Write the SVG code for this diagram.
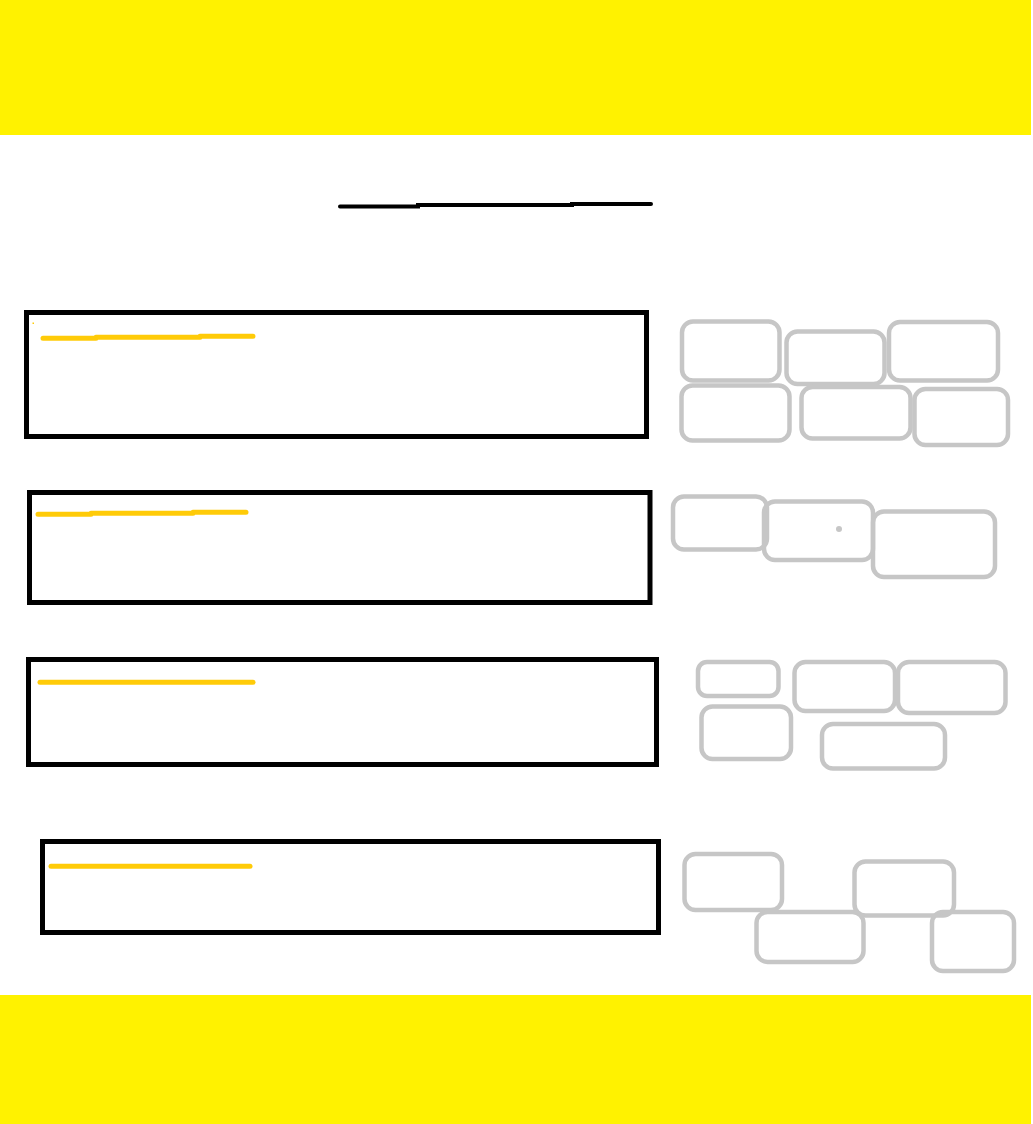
<svg xmlns="http://www.w3.org/2000/svg" width="1033" height="1124" viewBox="0 0 1033 1124">
<style>
.band{fill:#FFF200}
.panel{fill:none;stroke:#000;stroke-width:5}
.hl{fill:none;stroke:#FFCB08;stroke-width:5;stroke-linecap:round;stroke-linejoin:round}
.tag{fill:none;stroke:#C6C6C6;stroke-width:4.5}
.title{fill:none;stroke:#000;stroke-width:4;stroke-linecap:round}
</style>
<rect width="1033" height="1124" fill="#fff"/>
<rect id="top-band" class="band" x="0" y="0" width="1031" height="135"/>
<rect id="bottom-band" class="band" x="0" y="995" width="1031" height="129"/>
<path id="title-rule" class="title" d="M340,206.5 L418,206.5 L418,205 L572,205 L572,204 L651,204"/>

<g id="panel-1">
<rect class="panel" x="26.5" y="312.5" width="620" height="124"/>
<path class="hl" d="M43,338.3 L96,338.3 L96,337.3 L200,337.3 L200,336.3 L253,336.3"/>
<rect x="32.5" y="322.5" width="1.5" height="1.5" fill="#FFCB08"/>
</g>
<g id="panel-2">
<rect class="panel" x="29.5" y="492.5" width="620.5" height="110"/>
<path class="hl" d="M38,514.3 L91,514.3 L91,513.3 L193,513.3 L193,512.3 L246,512.3"/>
</g>
<g id="panel-3">
<rect class="panel" x="28.5" y="659.5" width="628" height="105"/>
<path class="hl" d="M40,682.3 L253,682.3"/>
</g>
<g id="panel-4">
<rect class="panel" x="42.5" y="841.5" width="616" height="91"/>
<path class="hl" d="M51,866.3 L250,866.3"/>
</g>

<g id="tags-1">
<rect class="tag" x="682" y="321.5" width="97.5" height="59" rx="11"/>
<rect class="tag" x="786.5" y="331.5" width="98" height="52.5" rx="11"/>
<rect class="tag" x="889" y="322" width="109" height="58.5" rx="11"/>
<rect class="tag" x="681.5" y="385.5" width="108" height="55" rx="11"/>
<rect class="tag" x="801.5" y="387" width="109" height="51.5" rx="11"/>
<rect class="tag" x="914.5" y="389" width="93.5" height="56" rx="11"/>
</g>
<g id="tags-2">
<rect class="tag" x="673" y="496.5" width="94" height="53" rx="11"/>
<rect class="tag" x="764" y="501.5" width="109" height="58.5" rx="11"/>
<circle cx="839" cy="529" r="3" fill="#C6C6C6"/>
<rect class="tag" x="873" y="511.5" width="122" height="65.5" rx="11"/>
</g>
<g id="tags-3">
<rect class="tag" x="698" y="662" width="80.5" height="34" rx="9"/>
<rect class="tag" x="794.5" y="662" width="100.5" height="49" rx="11"/>
<rect class="tag" x="898" y="662" width="107.5" height="51" rx="11"/>
<rect class="tag" x="701.5" y="706.5" width="89.5" height="52.5" rx="11"/>
<rect class="tag" x="822" y="724" width="123" height="44.5" rx="11"/>
</g>
<g id="tags-4">
<rect class="tag" x="684.5" y="854" width="97.5" height="56" rx="11"/>
<rect class="tag" x="854.5" y="861.5" width="99.5" height="54" rx="11"/>
<rect class="tag" x="756.5" y="912" width="107" height="50" rx="11"/>
<rect class="tag" x="932" y="912" width="82" height="59" rx="11"/>
</g>
<g id="connectors"/>
</svg>
